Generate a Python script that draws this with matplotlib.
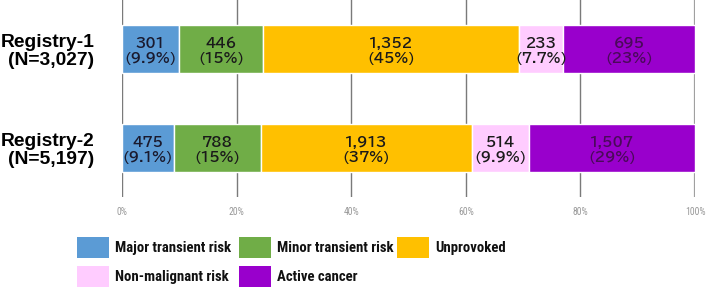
import matplotlib

matplotlib.use("Agg")
import matplotlib.pyplot as plt
from matplotlib.patches import Rectangle

# data
registries = ["Registry-1\n(N=3,027)", "Registry-2\n(N=5,197)"]
totals = [3027, 5197]
categories = ["Major transient risk", "Minor transient risk", "Unprovoked",
              "Non-malignant risk", "Active cancer"]
counts = [
    [301, 446, 1352, 233, 695],
    [475, 788, 1913, 514, 1507],
]
pct_labels = [
    ["9.9%", "15%", "45%", "7.7%", "23%"],
    ["9.1%", "15%", "37%", "9.9%", "29%"],
]
count_labels = [
    ["301", "446", "1,352", "233", "695"],
    ["475", "788", "1,913", "514", "1,507"],
]
ticks = [0, 20, 40, 60, 80, 100]

colors = ["#5B9BD5", "#70AD47", "#FFC000", "#FFCCFF", "#9900CC"]
text_colors = ["#1a1a2e", "#1a1a1a", "#1a1a1a", "#1a1a1a", "#4a0a5a"]
JP = ["BIZ UDPGothic", "DejaVu Sans"]
COND = ["Roboto Condensed", "DejaVu Sans"]

W, H = 709, 287
fig = plt.figure(figsize=(W / 100, H / 100), dpi=100)
ax = fig.add_axes([122 / W, 1 - 197 / H, (695 - 122) / W, 197 / H])

for i, (row, total) in enumerate(zip(counts, totals)):
    left = 0.0
    for j, c in enumerate(row):
        w = c / total * 100
        ax.barh(i, w, left=left, height=0.485, color=colors[j],
                edgecolor="white", linewidth=1.0, zorder=3)
        ax.text(left + w / 2, i + 0.02, f"{count_labels[i][j]}\n({pct_labels[i][j]})",
                ha="center", va="center", fontsize=9.8, fontweight="bold",
                linespacing=1.2, color=text_colors[j], family=JP, zorder=4)
        left += w

ax.set_xlim(0, 100)
ax.set_ylim(1.495, -0.495)
ax.set_xticks(ticks)
ax.set_xticklabels([f"{t}%" for t in ticks], fontsize=7, color="#999999",
                   family=COND)
ax.tick_params(axis="x", length=0, pad=7)
ax.set_yticks([0, 1])
ax.set_yticklabels(registries, fontsize=13.9, fontweight="bold",
                   family="Liberation Sans", linespacing=1.05)
ax.tick_params(axis="y", length=0, pad=20)
for x in ticks:
    ax.axvline(x, color="#7a7a7a" if x < 100 else "#a0a0a0",
               linewidth=1.0 if x < 100 else 1.6, zorder=1)
for s in ax.spines.values():
    s.set_visible(False)

# legend: 3 columns, 2 rows, laid out in figure pixels
col_x = [77, 239, 397]
row_y = [247, 276]
for k, name in enumerate(categories):
    cx, cy = col_x[k % 3], row_y[k // 3]
    fig.add_artist(Rectangle((cx / W, 1 - (cy + 10.5) / H), 32 / W, 21 / H,
                             transform=fig.transFigure, facecolor=colors[k],
                             edgecolor="none", zorder=1))
    fig.text((cx + 38) / W, 1 - (cy + 1) / H, name, ha="left", va="center",
             fontsize=10.6, fontweight="semibold", family=COND, color="#111111",
             zorder=2)

fig.savefig("out.png", dpi=100)
